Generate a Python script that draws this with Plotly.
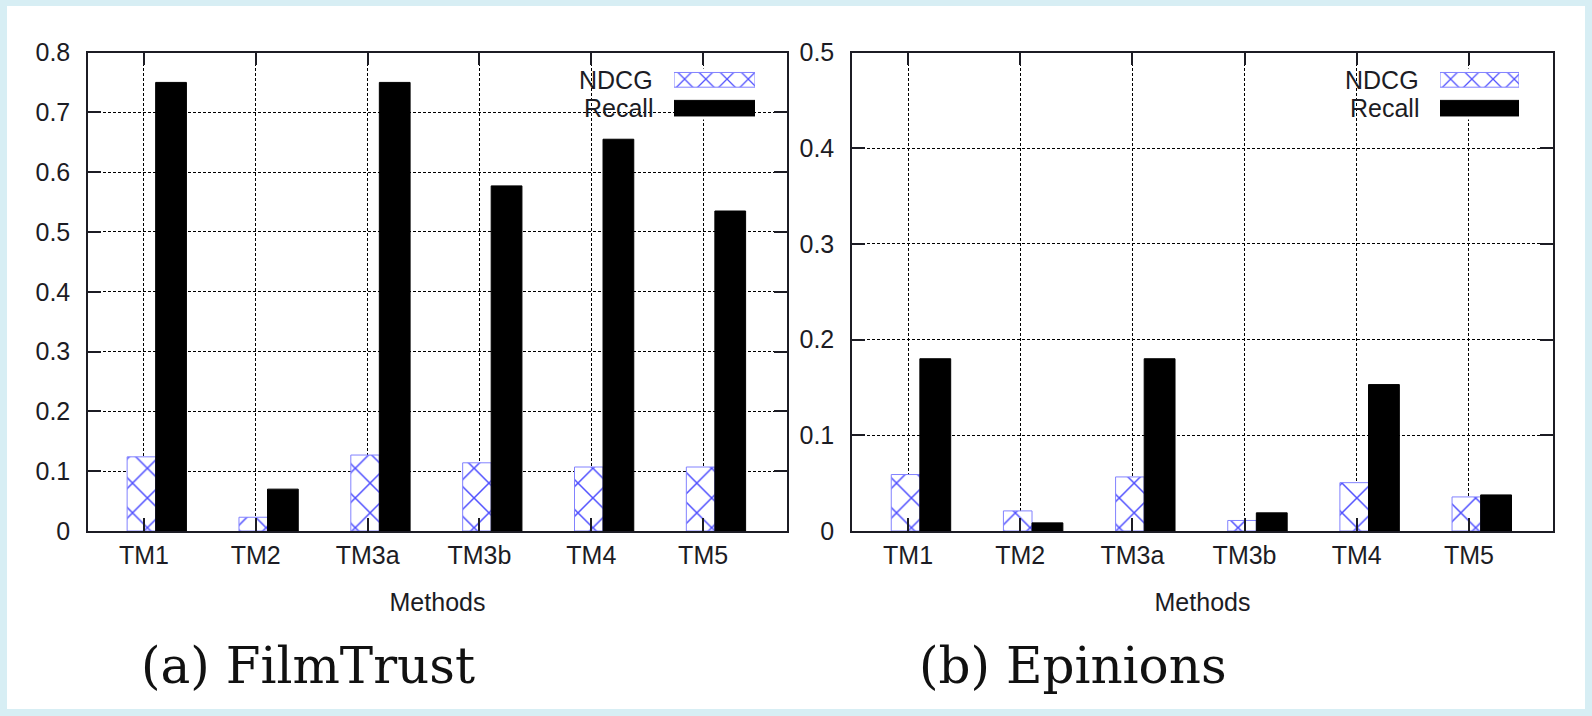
import plotly.graph_objects as go

# ---------------- data ----------------
methods = ["TM1", "TM2", "TM3a", "TM3b", "TM4", "TM5"]
series_names = ["NDCG", "Recall"]

film_ndcg = [0.124, 0.023, 0.127, 0.114, 0.107, 0.107]
film_recall = [0.750, 0.070, 0.750, 0.577, 0.655, 0.535]

epi_ndcg = [0.059, 0.021, 0.0565, 0.011, 0.0505, 0.0356]
epi_recall = [0.180, 0.0085, 0.180, 0.019, 0.153, 0.0377]

film_yticks = [0, 0.1, 0.2, 0.3, 0.4, 0.5, 0.6, 0.7, 0.8]
epi_yticks = [0, 0.1, 0.2, 0.3, 0.4, 0.5]

captions = ["(a) FilmTrust", "(b) Epinions"]
x_title = "Methods"

# ---------------- layout constants ----------------
W, H = 1592, 716
pos = list(range(len(methods)))

def px(x):
    return x / W

def py(y):
    return 1 - y / H

ink = "#1c1c24"
blue_fg = "#3030ff"
blue_line = "rgba(130,130,255,1)"

fig = go.Figure()

def ndcg_marker(size, sol):
    return dict(color="white",
                line=dict(color=blue_line, width=1),
                pattern=dict(shape="x", fgcolor=blue_fg, bgcolor="white",
                             fgopacity=0.85, size=size, solidity=sol))

recall_marker = dict(color="black", line=dict(color="black", width=1))

for (nd, rc, xa, ya) in [(film_ndcg, film_recall, "x", "y"),
                         (epi_ndcg, epi_recall, "x2", "y2")]:
    fig.add_trace(go.Bar(x=pos, y=nd, name=series_names[0], width=0.255,
                         offset=-0.15, marker=ndcg_marker(21, 0.14),
                         xaxis=xa, yaxis=ya, showlegend=False))
    fig.add_trace(go.Bar(x=pos, y=rc, name=series_names[1], width=0.275,
                         offset=0.105, marker=recall_marker,
                         xaxis=xa, yaxis=ya, showlegend=False))

# legend swatches drawn as bars on small hidden axes
for xa, ya in [("x3", "y3"), ("x4", "y4")]:
    fig.add_trace(go.Bar(y=[series_names[0]], x=[1], orientation="h",
                         width=0.52, marker=ndcg_marker(15, 0.16),
                         xaxis=xa, yaxis=ya, showlegend=False))
    fig.add_trace(go.Bar(y=[series_names[1]], x=[1], orientation="h",
                         width=0.55, marker=recall_marker,
                         xaxis=xa, yaxis=ya, showlegend=False))

tickfont = dict(family="Liberation Sans, Arial, sans-serif", size=25, color=ink)

common_x = dict(tickmode="array", tickvals=pos, ticktext=methods,
                range=[-0.5, 5.75], showgrid=True, gridcolor="black",
                griddash="3px,2px", gridwidth=1.2, zeroline=False,
                showline=True, linecolor=ink, linewidth=1.5, mirror="ticks",
                ticks="inside", ticklen=13, tickwidth=1.5, tickcolor=ink,
                tickfont=tickfont, ticklabelstandoff=1, automargin=False,
                title=dict(text=x_title, font=tickfont, standoff=26))
common_y = dict(showgrid=True, gridcolor="black", griddash="3px,2px",
                gridwidth=1.2, zeroline=False, showline=True, linecolor=ink,
                linewidth=1.5, mirror="ticks", ticks="inside", ticklen=13,
                tickwidth=1.5, tickcolor=ink, tickfont=tickfont,
                ticklabelstandoff=11, tickmode="array", automargin=False)

ydom = [py(531), py(52.5)]

leg_dom_y = [py(119.5), py(68.5)]

hidden = dict(visible=False, fixedrange=True, automargin=False)

fig.update_layout(
    width=W, height=H,
    margin=dict(l=0, r=0, t=0, b=0, pad=0, autoexpand=False),
    paper_bgcolor="#d7eef4",
    plot_bgcolor="white",
    barmode="overlay",
    xaxis=dict(domain=[px(88), px(787)], anchor="y", **common_x),
    yaxis=dict(domain=ydom, anchor="x", range=[0, 0.8],
               tickvals=film_yticks, **common_y),
    xaxis2=dict(domain=[px(852), px(1553)], anchor="y2", **common_x),
    yaxis2=dict(domain=ydom, anchor="x2", range=[0, 0.5],
                tickvals=epi_yticks, **common_y),
    xaxis3=dict(domain=[px(674), px(755)], anchor="y3", range=[0, 1],
                **hidden),
    yaxis3=dict(domain=leg_dom_y, anchor="x3", range=[-0.4, 1.4],
                categoryorder="array", categoryarray=series_names[::-1],
                **hidden),
    xaxis4=dict(domain=[px(1440), px(1519)], anchor="y4", range=[0, 1],
                **hidden),
    yaxis4=dict(domain=leg_dom_y, anchor="x4", range=[-0.4, 1.4],
                categoryorder="array", categoryarray=series_names[::-1],
                **hidden),
    shapes=[dict(type="rect", xref="paper", yref="paper",
                 x0=px(7), x1=px(1585), y0=py(709), y1=py(6),
                 fillcolor="white", line=dict(width=0), layer="below")],
)

annotations = []
for xr in [655, 1421]:
    for name, yy in zip(series_names, [80, 108]):
        annotations.append(dict(text=name, x=px(xr), y=py(yy), xref="paper",
                                yref="paper", xanchor="right",
                                yanchor="middle", showarrow=False,
                                font=tickfont))
for cap, cx in zip(captions, [308, 1073]):
    annotations.append(dict(text=cap, x=px(cx), y=py(666), xref="paper",
                            yref="paper", xanchor="center", yanchor="middle",
                            showarrow=False,
                            font=dict(family="DejaVu Serif, serif", size=50,
                                      color="#111")))
fig.update_layout(annotations=annotations)

fig.write_html(
    "out.html",
    config={"displayModeBar": False},
    post_script="document.body.style.margin='0';"
                "document.body.style.overflow='hidden';",
)
